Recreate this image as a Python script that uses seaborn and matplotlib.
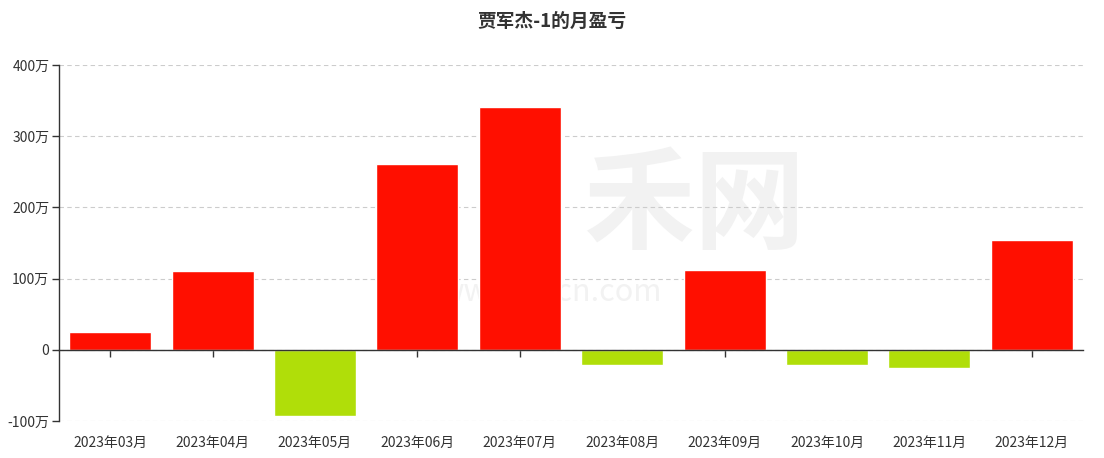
import seaborn as sns
import numpy as np
import matplotlib.pyplot as plt
import pandas as pd

months = ['2023年03月', '2023年04月', '2023年05月', '2023年06月', '2023年07月',
          '2023年08月', '2023年09月', '2023年10月', '2023年11月', '2023年12月']
pnl = [25, 110, -93, 261, 341, -22, 112, -22, -26, 154]  # 万
yticks = [-100, 0, 100, 200, 300, 400]
ytick_labels = ['-100万', '0', '100万', '200万', '300万', '400万']

sns.set_theme(style='white')
plt.rcParams['font.family'] = ['Noto Sans CJK SC', 'DejaVu Sans']

df = pd.DataFrame({'month': months, 'pnl': pnl})
colors = {m: ('#ff0f00' if v >= 0 else '#b0de09') for m, v in zip(months, pnl)}

fig = plt.figure(figsize=(11.04, 4.58), dpi=100)
ax = fig.add_axes([59/1104, 37/458, 1024/1104, 356/458])

# watermark
ax.text(0.62, 0.6, '禾网', transform=ax.transAxes, ha='center', va='center',
        fontsize=80, color='#f2f2f2', fontweight='bold', zorder=0)
ax.text(0.48, 0.36, 'www.7hcn.com', transform=ax.transAxes, ha='center', va='center',
        fontsize=22, color='#f2f2f2', zorder=0)

sns.barplot(data=df, x='month', y='pnl', hue='month', palette=colors, legend=False,
            width=0.8, saturation=1, ax=ax, zorder=2)

ax.set_ylim(-100, 400)
ax.set_yticks(yticks)
ax.set_yticklabels(ytick_labels)
ax.yaxis.grid(True, linestyle=(0, (4, 3)), color='#cccccc', linewidth=0.8)
ax.set_axisbelow(True)

for s in ['top', 'right']:
    ax.spines[s].set_visible(False)
ax.spines['left'].set_color('#333333')
ax.spines['left'].set_linewidth(1)
ax.spines['bottom'].set_position(('data', 0))
ax.spines['bottom'].set_color('#333333')
ax.spines['bottom'].set_linewidth(1)
ax.spines['bottom'].set_zorder(3)

ax.tick_params(axis='y', left=True, length=5, width=1, color='#333333',
               labelsize=10, labelcolor='#333333', pad=2)
ax.tick_params(axis='x', bottom=True, length=5, width=1, color='#333333',
               labelsize=10, labelcolor='#333333', pad=57)
ax.set_xlabel('')
ax.set_ylabel('')

fig.suptitle('贾军杰-1的月盈亏', x=0.5, y=0.975, fontsize=13.5, fontweight='bold', color='#333333')

fig.savefig('out.png', dpi=100)
